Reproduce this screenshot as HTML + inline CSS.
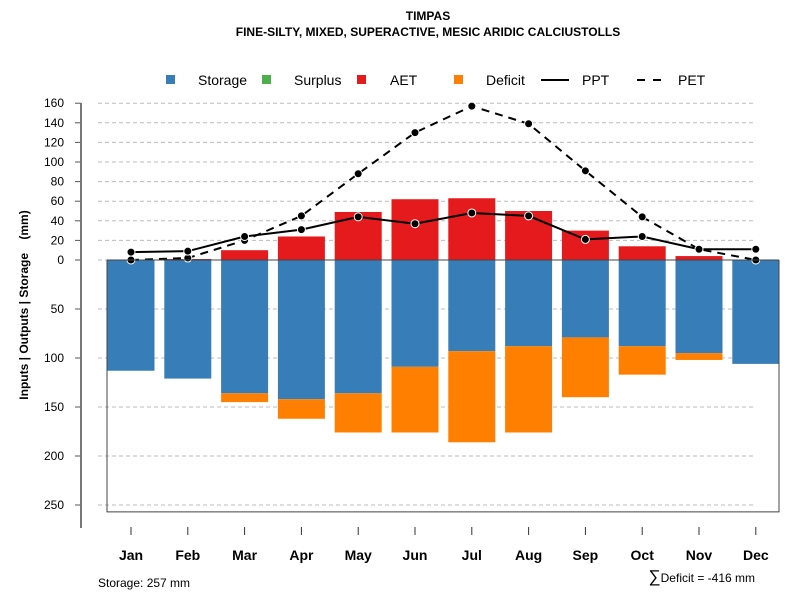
<!DOCTYPE html>
<html><head><meta charset="utf-8"><style>
body{margin:0;background:#fff}
svg{display:block;font-family:"Liberation Sans",Arial,sans-serif}
</style></head><body>
<svg id="chart" width="800" height="600" viewBox="0 0 800 600">
<text x="428" y="20" text-anchor="middle" font-size="12" font-weight="bold">TIMPAS</text>
<text x="428" y="36" text-anchor="middle" font-size="12" font-weight="bold">FINE-SILTY, MIXED, SUPERACTIVE, MESIC ARIDIC CALCIUSTOLLS</text>
<g font-size="14">
<rect x="166" y="75" width="9" height="9" fill="#377eb8"/>
<text x="198" y="85">Storage</text>
<rect x="262" y="75" width="9" height="9" fill="#4daf4a"/>
<text x="294" y="85">Surplus</text>
<rect x="357" y="75" width="9" height="9" fill="#e41a1c"/>
<text x="390" y="85">AET</text>
<rect x="454" y="75" width="9" height="9" fill="#ff7f00"/>
<text x="486" y="85">Deficit</text>
<line x1="541" y1="80" x2="569" y2="80" stroke="#000" stroke-width="2"/>
<text x="582" y="85">PPT</text>
<line x1="637" y1="80" x2="661" y2="80" stroke="#000" stroke-width="2" stroke-dasharray="8,8"/>
<text x="678" y="85">PET</text>
</g>
<text transform="translate(28,305) rotate(-90)" text-anchor="middle" font-size="12" font-weight="bold" xml:space="preserve" style="white-space:pre">Inputs | Outputs | Storage    (mm)</text>
<g id="grid"></g>
<g id="bars"></g>
<g id="lines"></g>
<g id="axes"></g>
<text x="98" y="587" font-size="12">Storage: 257 mm</text>
<text x="755" y="582" text-anchor="end" font-size="12"><tspan font-size="17">∑</tspan>Deficit = -416 mm</text>
</svg>
<script>
const months=["Jan","Feb","Mar","Apr","May","Jun","Jul","Aug","Sep","Oct","Nov","Dec"];
const ppt=[8,9,24,31,44,37,48,45,21,24,11,11];
const pet=[0,2,20,45,88,130,157,139,91,44,11,0];
const aet=[0,1,10,24,49,62,63,50,30,14,4,0];
const storage=[113,121,136,142,136,109,93,88,79,88,95,106];
const deficit=[0,0,9,20,40,67,93,88,61,29,7,0];
const upTicks=[0,20,40,60,80,100,120,140,160];
const downTicks=[50,100,150,200,250];
const maxStorage=257;
const NS="http://www.w3.org/2000/svg";
const y0=260,k=0.98;
const yUp=v=>y0-v*k, yDown=v=>y0+v*k;
const xC=i=>131+i*56.8;
function mk(tag,attrs,parent){const e=document.createElementNS(NS,tag);for(const a in attrs)e.setAttribute(a,attrs[a]);document.getElementById(parent).appendChild(e);return e;}
upTicks.forEach(t=>{
 const g=mk('line',{x1:98,x2:755,y1:yUp(t),y2:yUp(t),stroke:'#bbb','stroke-dasharray':'4,3'},'grid');
 
 
 const tk=mk('line',{x1:75,x2:81,y1:yUp(t),y2:yUp(t),stroke:'#555'},'axes');
 
 
 const l=mk('text',{x:64,y:yUp(t)+4,'text-anchor':'end','font-size':12},'axes');l.textContent=t;
 
 
});
downTicks.forEach(t=>{
 const g=mk('line',{x1:98,x2:755,y1:yDown(t),y2:yDown(t),stroke:'#bbb','stroke-dasharray':'4,3'},'grid');
 
 
 const tk=mk('line',{x1:75,x2:81,y1:yDown(t),y2:yDown(t),stroke:'#555'},'axes');
 
 
 const l=mk('text',{x:64,y:yDown(t)+4,'text-anchor':'end','font-size':12},'axes');l.textContent=t;
 
 
});
const bw=47;
months.forEach((m,i)=>{
 const x=xC(i)-bw/2;
 const s=mk('rect',{x:x,y:y0,width:bw,height:storage[i]*k,fill:'#377eb8'},'bars');
 
 
 if(deficit[i]>0){const d=mk('rect',{x:x,y:yDown(storage[i]),width:bw,height:deficit[i]*k,fill:'#ff7f00'},'bars');
 
 }
 if(aet[i]>0){const a=mk('rect',{x:x,y:yUp(aet[i]),width:bw,height:aet[i]*k,fill:'#e41a1c'},'bars');
 
 }
 const tk=mk('line',{x1:xC(i),x2:xC(i),y1:527,y2:535,stroke:'#333'},'axes');
 
 
 const l=mk('text',{x:xC(i),y:560,'text-anchor':'middle','font-size':14,'font-weight':'bold'},'axes');l.textContent=m;
 
 
});
const box=mk('path',{d:`M107 ${y0} V${yDown(maxStorage)} H779 V${y0}`,fill:'none',stroke:'#444'},'axes');


const zl=mk('line',{x1:107,x2:779,y1:y0,y2:y0,stroke:'#444'},'axes');


const ya=mk('line',{x1:81,x2:81,y1:103,y2:528,stroke:'#777','stroke-width':2},'axes');


function series(vals,dash,name){
 const p=mk('polyline',{points:vals.map((v,i)=>xC(i)+','+yUp(v)).join(' '),fill:'none',stroke:'#000','stroke-width':2,'stroke-dasharray':dash},'lines');
 
 
 vals.forEach((v,i)=>{const c=mk('circle',{cx:xC(i),cy:yUp(v),r:4,fill:'#000',stroke:'#fff','stroke-width':1},'lines');
 
 });
}
series(pet,'8,6','pet');
series(ppt,'none','ppt');
</script>
</body></html>
